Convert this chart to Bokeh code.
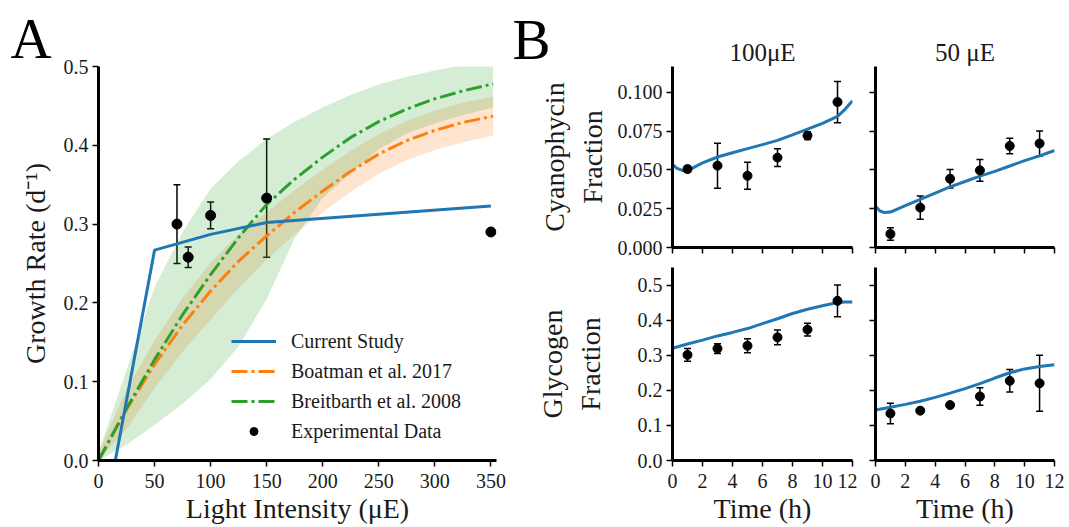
from bokeh.plotting import figure
from bokeh.models import (ColumnDataSource, Whisker, TeeHead, Legend, LegendItem,
                          FixedTicker, Range1d, Title)
from bokeh.layouts import row, column
from bokeh.embed import file_html
from bokeh.resources import INLINE

FONT = "Liberation Serif"
BLUE = "#1f77b4"
ORANGE = "#ff7f0e"
GREEN = "#2ca02c"

# ---------------- Panel A data ----------------
model_light = [15, 50, 100, 150, 350]
model_rate = [0.0, 0.267, 0.287, 0.302, 0.323]

curve_light = [0, 25, 50, 75, 100, 125, 150, 175, 200, 225, 250, 275, 300, 325, 352]
boatman_rate = [0.0, 0.065, 0.122, 0.172, 0.215, 0.253, 0.285, 0.315, 0.342, 0.367, 0.389, 0.406, 0.419, 0.429, 0.437]
boatman_low = [0.0, 0.040, 0.092, 0.138, 0.179, 0.219, 0.255, 0.287, 0.315, 0.341, 0.364, 0.381, 0.394, 0.404, 0.412]
boatman_high = [0.01, 0.090, 0.152, 0.206, 0.251, 0.287, 0.315, 0.343, 0.369, 0.393, 0.414, 0.431, 0.444, 0.454, 0.462]
breit_rate = [0.0, 0.066, 0.128, 0.185, 0.236, 0.283, 0.325, 0.357, 0.385, 0.410, 0.430, 0.446, 0.459, 0.469, 0.478]
breit_low = [0.0, 0.020, 0.045, 0.072, 0.103, 0.145, 0.205, 0.282, 0.333, 0.365, 0.395, 0.415, 0.428, 0.438, 0.448]
breit_high = [0.01, 0.115, 0.220, 0.290, 0.345, 0.380, 0.408, 0.430, 0.448, 0.464, 0.477, 0.487, 0.495, 0.502, 0.508]

exp_light = [70, 80, 100, 150, 350]
exp_rate = [0.300, 0.258, 0.311, 0.333, 0.290]
exp_err = [0.050, 0.013, 0.017, 0.075, 0.003]

a_xticks = [0, 50, 100, 150, 200, 250, 300, 350]
a_yticks = [0.0, 0.1, 0.2, 0.3, 0.4, 0.5]
a_ytick_labels = ["0.0", "0.1", "0.2", "0.3", "0.4", "0.5"]

# ---------------- Panel B data ----------------
time_exp = [1, 3, 5, 7, 9, 11]
cyano100_exp = [0.0505, 0.0527, 0.0462, 0.0579, 0.0721, 0.0937]
cyano100_err = [0.002, 0.0145, 0.0087, 0.0057, 0.0025, 0.0133]
cyano50_exp = [0.0087, 0.0257, 0.0443, 0.0497, 0.0654, 0.0670]
cyano50_err = [0.004, 0.0075, 0.006, 0.007, 0.005, 0.008]
glyco100_exp = [0.301, 0.319, 0.327, 0.351, 0.373, 0.455]
glyco100_err = [0.018, 0.014, 0.020, 0.021, 0.018, 0.045]
glyco50_exp = [0.134, 0.142, 0.158, 0.1825, 0.227, 0.220]
glyco50_err = [0.029, 0.005, 0.006, 0.025, 0.032, 0.080]

cyano100_t = [0, 0.3, 0.7, 1.2, 2, 3, 4, 5, 6, 7, 8, 9, 10, 11, 11.5, 12]
cyano100_model = [0.0535, 0.051, 0.0495, 0.0505, 0.0545, 0.0583, 0.061, 0.0637, 0.0663, 0.069, 0.0725, 0.0762, 0.080, 0.0845, 0.089, 0.0945]
cyano50_t = [0, 0.3, 0.6, 1.0, 2, 3, 4, 5, 6, 7, 8, 9, 10, 11, 12]
cyano50_model = [0.0265, 0.0235, 0.0225, 0.0228, 0.027, 0.031, 0.035, 0.039, 0.0425, 0.046, 0.049, 0.0525, 0.056, 0.059, 0.0625]
glyco100_t = [0, 1, 2, 3, 4, 5, 6, 7, 8, 9, 10, 11, 11.5, 12]
glyco100_model = [0.320, 0.332, 0.343, 0.355, 0.365, 0.376, 0.390, 0.404, 0.419, 0.431, 0.441, 0.450, 0.452, 0.452]
glyco50_t = [0, 1, 2, 3, 4, 5, 6, 7, 8, 9, 10, 11, 12]
glyco50_model = [0.144, 0.152, 0.160, 0.169, 0.180, 0.192, 0.205, 0.219, 0.235, 0.250, 0.261, 0.268, 0.273]

b_xticks = [0, 2, 4, 6, 8, 10, 12]
cyano_yticks = [0.0, 0.025, 0.05, 0.075, 0.1]
cyano_ytick_labels = ["0.000", "0.025", "0.050", "0.075", "0.100"]
glyco_yticks = [0.0, 0.1, 0.2, 0.3, 0.4, 0.5]
glyco_ytick_labels = ["0.0", "0.1", "0.2", "0.3", "0.4", "0.5"]


def style(p, show_xlabels=True, show_ylabels=True):
    p.outline_line_color = None
    p.grid.visible = False
    p.background_fill_color = "white"
    p.border_fill_color = "white"
    for ax in p.axis:
        ax.axis_line_width = 3
        ax.axis_line_color = "black"
        ax.major_tick_line_width = 1.5
        ax.major_tick_line_color = "black"
        ax.major_tick_out = 6
        ax.major_tick_in = 0
        ax.minor_tick_line_color = None
        ax.major_label_text_font = FONT
        ax.major_label_text_font_size = "20px"
        ax.major_label_text_color = "#1a1a1a"
        ax.axis_label_text_font = FONT
        ax.axis_label_text_font_size = "28px"
        ax.axis_label_text_font_style = "normal"
        ax.axis_label_text_color = "#1a1a1a"
        ax.major_label_standoff = 4
        ax.axis_label_standoff = 10
    p.xaxis.major_label_standoff = 7
    p.xaxis.axis_label_standoff = 2
    p.xaxis.axis_label_text_line_height = 1.0
    if not show_xlabels:
        p.xaxis.major_label_text_font_size = "0px"
        p.xaxis.major_label_text_color = None
        p.xaxis.major_label_standoff = 0
    if not show_ylabels:
        p.yaxis.major_label_text_font_size = "0px"
        p.yaxis.major_label_text_color = None
        p.yaxis.major_label_standoff = 0


def errorbars(p, xs, ys, errs, size):
    src = ColumnDataSource(dict(x=xs, y=ys,
                                upper=[y + e for y, e in zip(ys, errs)],
                                lower=[y - e for y, e in zip(ys, errs)]))
    w = Whisker(source=src, base="x", upper="upper", lower="lower",
                line_color="black", line_width=1.5,
                upper_head=TeeHead(size=7, line_width=1.5, line_color="black"),
                lower_head=TeeHead(size=7, line_width=1.5, line_color="black"))
    p.add_layout(w)
    return p.scatter("x", "y", source=src, size=size, color="black")


def panel_letter(text, offset, standoff):
    return Title(text=text, align="left", offset=offset, text_font=FONT,
                 text_font_size="57px", text_font_style="normal",
                 text_color="black", standoff=standoff)


# ---------------- Panel A ----------------
pa = figure(width=508, height=527, title=None,
            x_range=Range1d(0, 355), y_range=Range1d(0, 0.5),
            output_backend="svg", toolbar_location=None,
            min_border_left=98, min_border_right=12,
            min_border_top=66, min_border_bottom=67)
style(pa)
pa.title = panel_letter("A", -88, -6)
pa.xaxis.ticker = FixedTicker(ticks=a_xticks)
pa.yaxis.ticker = FixedTicker(ticks=a_yticks)
pa.yaxis.major_label_overrides = {t: l for t, l in zip(a_yticks, a_ytick_labels)}
pa.xaxis.axis_label = "Light Intensity (\u03bcE)"
pa.yaxis.axis_label = "Growth Rate (d\u207b\u00b9)"

pa.varea(x=curve_light, y1=boatman_low, y2=boatman_high, fill_color=ORANGE, fill_alpha=0.2)
pa.varea(x=curve_light, y1=breit_low, y2=breit_high, fill_color=GREEN, fill_alpha=0.2)
r_boat = pa.line(curve_light, boatman_rate, line_color=ORANGE, line_width=3, line_dash="16 4 3 4")
r_breit = pa.line(curve_light, breit_rate, line_color=GREEN, line_width=3, line_dash="16 4 3 4")
r_model = pa.line(model_light, model_rate, line_color=BLUE, line_width=3)
r_exp = errorbars(pa, exp_light, exp_rate, exp_err, 10)

legend = Legend(items=[
    LegendItem(label="Current Study", renderers=[r_model]),
    LegendItem(label="Boatman et al. 2017", renderers=[r_boat]),
    LegendItem(label="Breitbarth et al. 2008", renderers=[r_breit]),
    LegendItem(label="Experimental Data", renderers=[r_exp]),
], location=(133, 16), border_line_color=None, background_fill_alpha=0,
    label_text_font=FONT, label_text_font_size="20px", label_text_color="#1a1a1a",
    glyph_width=45, glyph_height=20, label_height=26, spacing=4, padding=5,
    label_standoff=15, margin=0)
pa.add_layout(legend)


# ---------------- Panel B ----------------
def bfig(width, height, ylim, left, right, top, bottom, title=None):
    p = figure(width=width, height=height,
               x_range=Range1d(0, 12), y_range=Range1d(*ylim),
               output_backend="svg", toolbar_location=None,
               min_border_left=left, min_border_right=right,
               min_border_top=top, min_border_bottom=bottom, title=None)
    if title:
        p.add_layout(Title(text=title, align="center", text_font=FONT,
                           text_font_size="25px", text_font_style="normal",
                           text_color="#1a1a1a", standoff=2), "above")
    p.xaxis.ticker = FixedTicker(ticks=b_xticks)
    return p


b11 = bfig(349, 257, (0, 0.1166), 164, 5, 66, 10, "100\u03bcE")
b12 = bfig(208, 257, (0, 0.1166), 18, 11, 66, 10, "50 \u03bcE")
b21 = bfig(349, 270, (0, 0.55), 164, 5, 10, 67)
b22 = bfig(208, 270, (0, 0.55), 18, 11, 10, 67)

# panel letter "B", stacked above the "100μE" heading
b11.add_layout(panel_letter("B", -160, -70), "above")

style(b11, show_xlabels=False)
style(b12, show_xlabels=False, show_ylabels=False)
style(b21)
style(b22, show_ylabels=False)

for p in (b11, b12):
    p.yaxis.ticker = FixedTicker(ticks=cyano_yticks)
    p.yaxis.major_label_overrides = {t: l for t, l in zip(cyano_yticks, cyano_ytick_labels)}
for p in (b21, b22):
    p.yaxis.ticker = FixedTicker(ticks=glyco_yticks)
    p.yaxis.major_label_overrides = {t: l for t, l in zip(glyco_yticks, glyco_ytick_labels)}
    p.xaxis.axis_label = "Time (h)"

b11.yaxis.axis_label = "Cyanophycin\nFraction"
b11.yaxis.axis_label_standoff = 7
b21.yaxis.axis_label = "Glycogen\nFraction"
b21.yaxis.axis_label_standoff = 29

b11.line(cyano100_t, cyano100_model, line_color=BLUE, line_width=3)
errorbars(b11, time_exp, cyano100_exp, cyano100_err, 9)
b12.line(cyano50_t, cyano50_model, line_color=BLUE, line_width=3)
errorbars(b12, time_exp, cyano50_exp, cyano50_err, 9)
b21.line(glyco100_t, glyco100_model, line_color=BLUE, line_width=3)
errorbars(b21, time_exp, glyco100_exp, glyco100_err, 9)
b22.line(glyco50_t, glyco50_model, line_color=BLUE, line_width=3)
errorbars(b22, time_exp, glyco50_exp, glyco50_err, 9)

layout = row(pa, column(row(b11, b12), row(b21, b22)))

open("out.html", "w").write(file_html(layout, INLINE))
